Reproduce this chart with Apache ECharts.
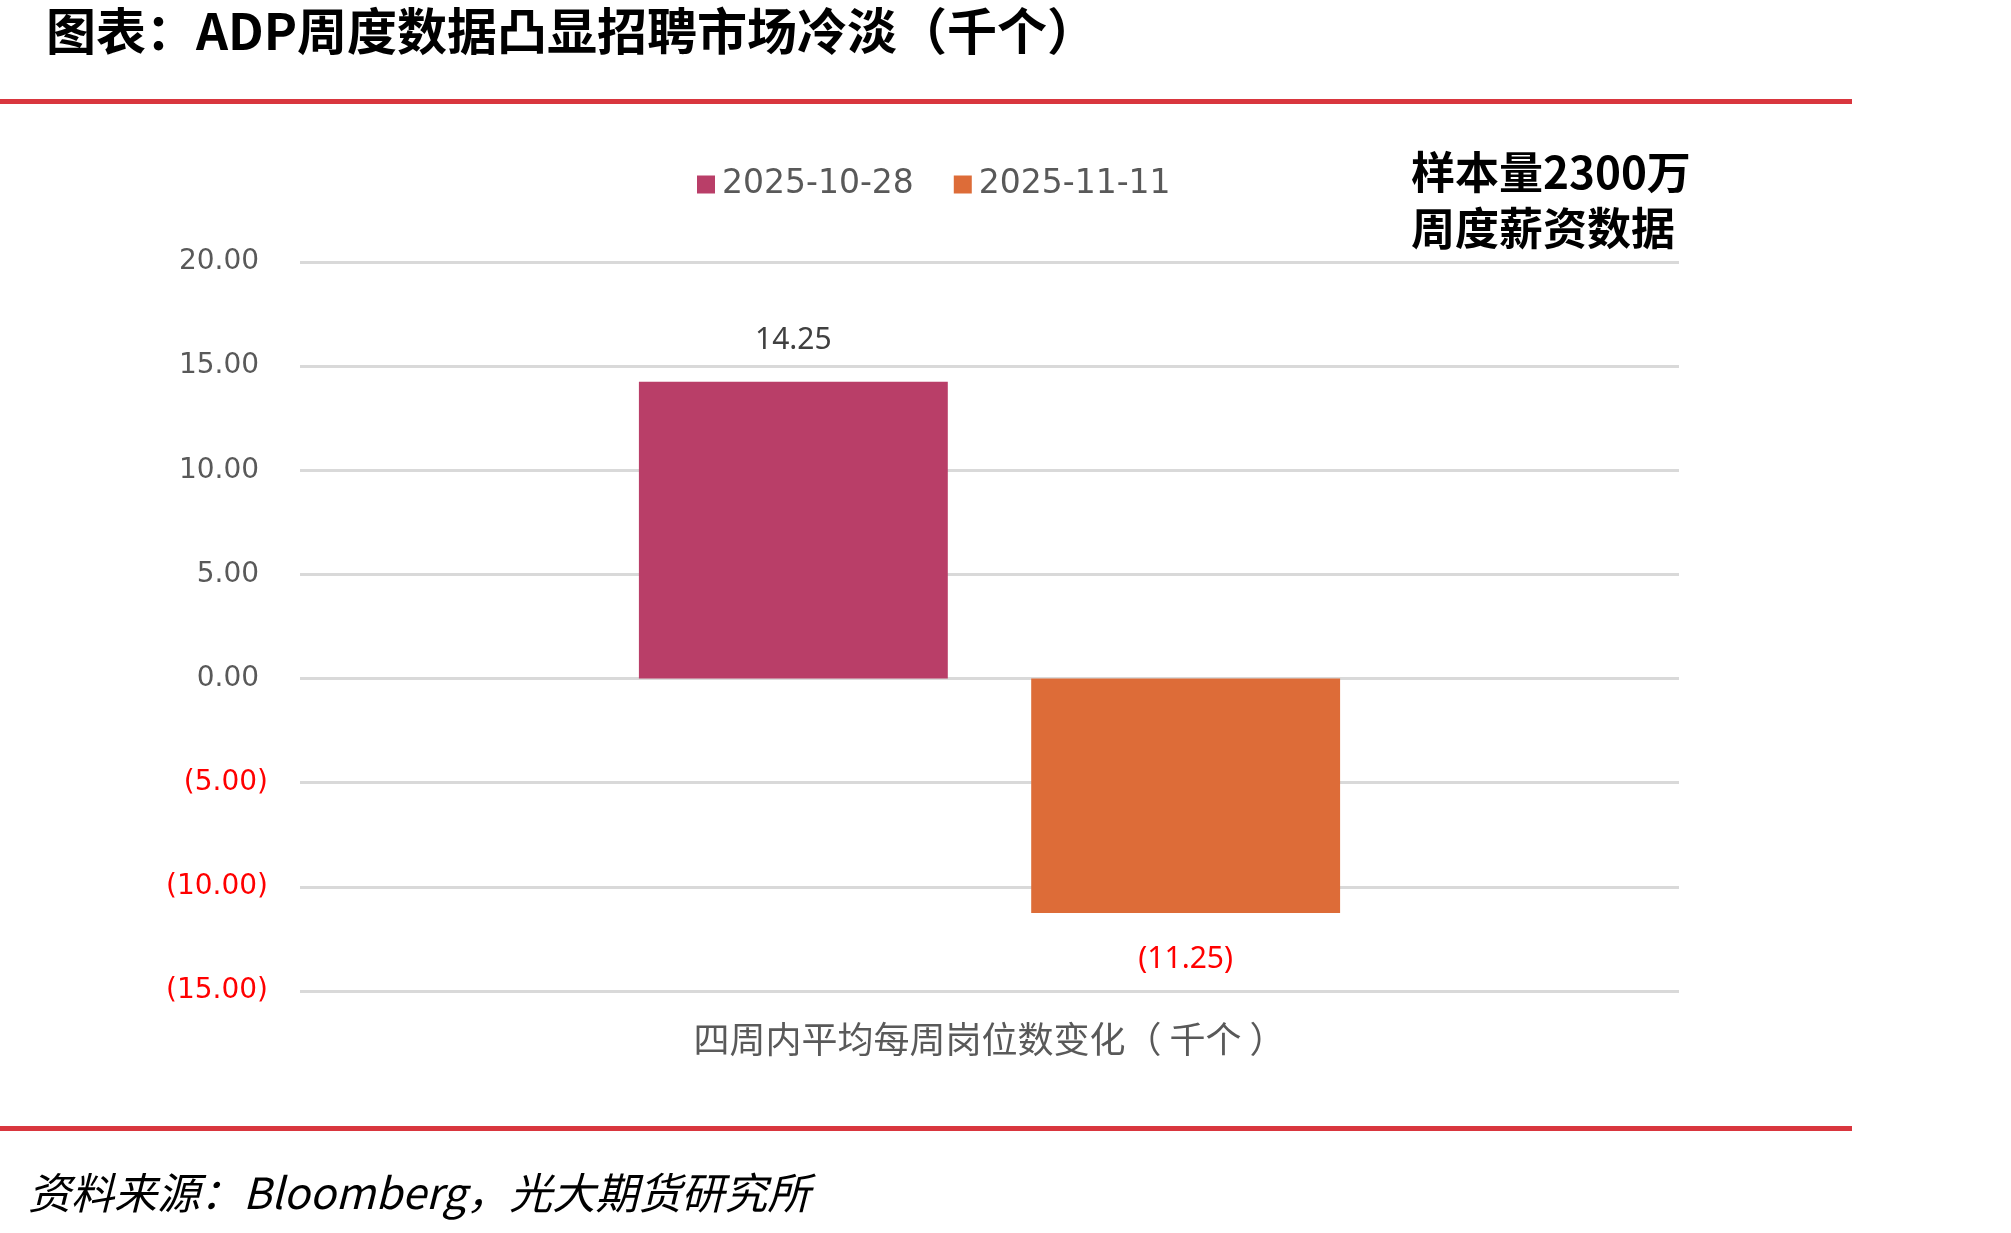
<!DOCTYPE html>
<html>
<head>
<meta charset="utf-8">
<script src="https://cdn.jsdelivr.net/npm/echarts@6/dist/echarts.min.js"></script>
<style>
  html, body { margin: 0; padding: 0; background: #fff; }
  #chart { width: 2011px; height: 1233px; }
</style>
</head>
<body>
<div id="chart"></div>
<script>
// data
const categories = ['四周内平均每周岗位数变化（ 千个 ）'];
const seriesNames = ['2025-10-28', '2025-11-11'];
const values1028 = [14.25];
const values1111 = [-11.25];
const yTicks = { min: -15, max: 20, interval: 5 };

const colors = ['#B93E68', '#DD6C38'];
const red = '#FF0000';
const grey = '#595959';

const fmt = v => v < 0 ? '(' + Math.abs(v).toFixed(2) + ')' : v.toFixed(2) + ' ';

const chart = echarts.init(document.getElementById('chart'));

const barLabel = {
  show: true,
  fontFamily: 'Noto Sans',
  fontSize: 30,
  distance: 26,
  formatter: p => fmt(p.value).trim(),
  color: '#404040'
};

chart.setOption({
  animation: false,
  color: colors,
  grid: { left: 300, right: 332, top: 262, bottom: 242 },
  legend: {
    data: seriesNames,
    left: 692,
    top: 163,
    itemWidth: 18,
    itemHeight: 18,
    itemGap: 40,
    icon: 'rect',
    textStyle: { fontFamily: 'DejaVu Sans', fontSize: 33, color: grey, padding: [0, 0, 0, 2] }
  },
  xAxis: {
    type: 'category',
    data: categories,
    axisLine: { show: false, onZero: false },
    axisTick: { show: false },
    axisLabel: {
      margin: 30,
      fontFamily: 'Noto Sans CJK SC',
      fontSize: 36,
      color: grey
    }
  },
  yAxis: {
    type: 'value',
    min: yTicks.min,
    max: yTicks.max,
    interval: yTicks.interval,
    axisLine: { show: false },
    axisTick: { show: false },
    splitLine: { lineStyle: { color: '#D9D9D9', width: 3 } },
    axisLabel: {
      margin: 32,
      fontFamily: 'DejaVu Sans',
      fontSize: 28,
      formatter: fmt,
      color: v => (parseFloat(v) < 0 ? red : grey)
    }
  },
  series: [
    {
      name: seriesNames[0],
      type: 'bar',
      data: values1028,
      barWidth: '22.4%',
      barGap: '27%',
      label: Object.assign({}, barLabel, { position: 'top' })
    },
    {
      name: seriesNames[1],
      type: 'bar',
      data: values1111,
      barWidth: '22.4%',
      label: Object.assign({}, barLabel, { position: 'bottom', distance: 32, color: red })
    }
  ],
  graphic: [
    {
      type: 'text', left: 46, top: 6,
      style: {
        text: '图表：ADP周度数据凸显招聘市场冷淡（千个）',
        font: 'bold 50px "Noto Sans CJK SC"',
        fill: '#000'
      }
    },
    {
      type: 'rect', shape: { x: 0, y: 99, width: 1852, height: 5 },
      style: { fill: '#D9363E' }
    },
    {
      type: 'rect', shape: { x: 0, y: 1126, width: 1852, height: 5 },
      style: { fill: '#D9363E' }
    },
    {
      type: 'text', left: 1411, top: 144,
      style: {
        text: '样本量2300万\n周度薪资数据',
        font: 'bold 44px "Noto Sans CJK SC"',
        lineHeight: 56,
        fill: '#000'
      }
    },
    {
      type: 'text', left: 28, top: 1171,
      style: {
        text: '资料来源：Bloomberg，光大期货研究所',
        font: 'italic 43px "Noto Sans CJK SC"',
        fill: '#000'
      }
    }
  ]
});
</script>
</body>
</html>
